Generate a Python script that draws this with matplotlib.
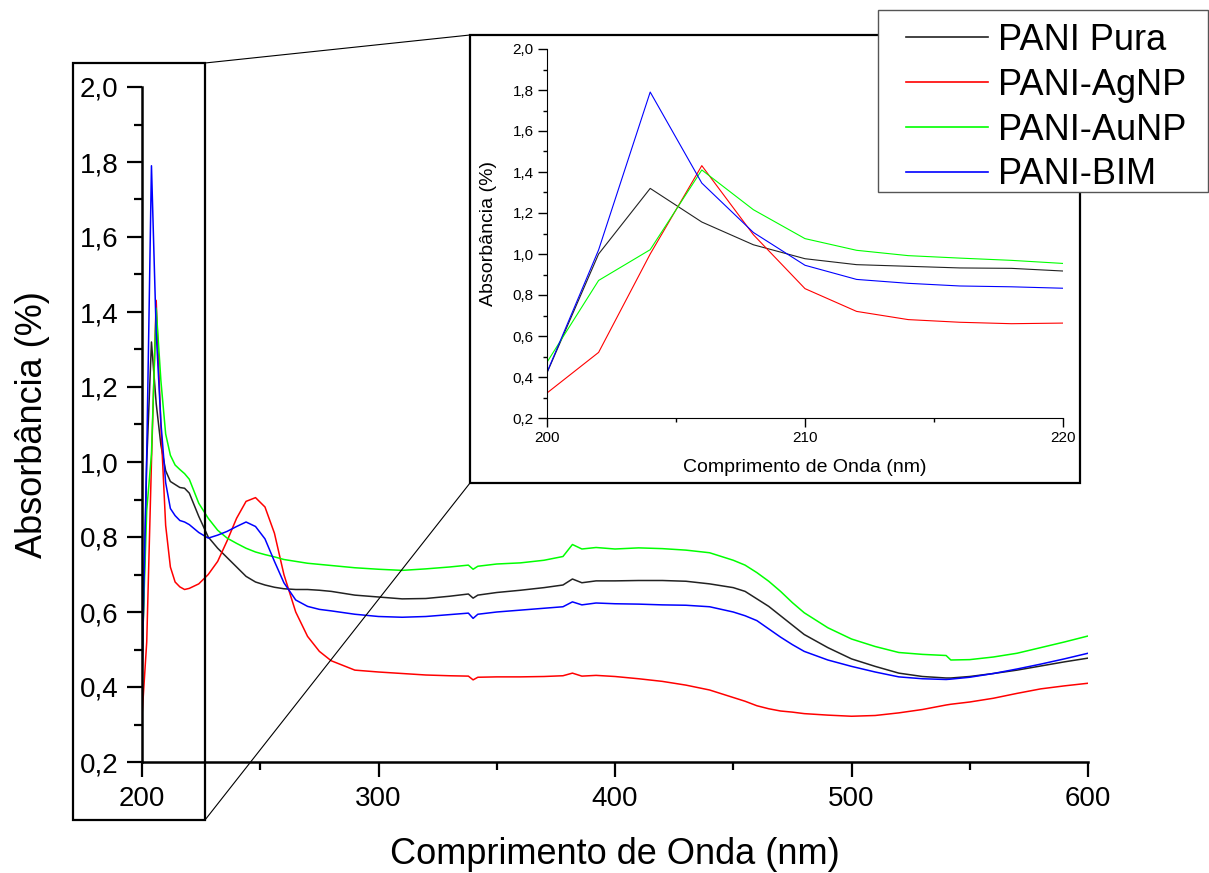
import matplotlib
matplotlib.use("Agg")
import matplotlib.pyplot as plt
from matplotlib.patches import Rectangle
from matplotlib.lines import Line2D
from matplotlib.ticker import MultipleLocator, FuncFormatter

plt.rcParams['font.family'] = ['Liberation Sans', 'DejaVu Sans']

# espectros UV-Vis (nm, absorbancia)
wl = [200, 202, 204, 206, 208, 210, 212, 214, 216, 218, 220,
      224, 228, 232, 236, 240, 244, 248, 252, 256, 260, 265, 270, 275, 280,
      290, 300, 310, 320, 330, 338, 340, 342, 350, 360, 370, 378, 382, 386,
      392, 400, 410, 420, 430, 440, 450, 455, 460, 465, 470, 475, 480, 490,
      500, 510, 520, 530, 540, 542, 550, 560, 570, 580, 590, 600]

pura = [0.42, 1.00, 1.32, 1.156, 1.045, 0.977, 0.948, 0.94, 0.932, 0.93, 0.917,
        0.855, 0.80, 0.77, 0.745, 0.72, 0.695, 0.68, 0.672, 0.666, 0.662, 0.660, 0.660, 0.658, 0.655,
        0.645, 0.640, 0.635, 0.636, 0.642, 0.648, 0.637, 0.645, 0.652, 0.658, 0.665, 0.672, 0.688, 0.678,
        0.683, 0.683, 0.684, 0.684, 0.682, 0.675, 0.665, 0.655, 0.635, 0.615, 0.59, 0.565, 0.54, 0.505,
        0.475, 0.455, 0.437, 0.428, 0.424, 0.424, 0.428, 0.436, 0.445, 0.456, 0.467, 0.477]

agnp = [0.322, 0.52, 1.00, 1.431, 1.094, 0.831, 0.72, 0.68, 0.667, 0.66, 0.663,
        0.675, 0.70, 0.735, 0.79, 0.85, 0.895, 0.905, 0.88, 0.81, 0.70, 0.60, 0.535, 0.495, 0.47,
        0.445, 0.44, 0.436, 0.432, 0.43, 0.429, 0.419, 0.426, 0.427, 0.427, 0.428, 0.43, 0.437, 0.429,
        0.431, 0.428, 0.422, 0.415, 0.405, 0.392, 0.372, 0.362, 0.35, 0.342, 0.336, 0.333, 0.329, 0.325,
        0.322, 0.324, 0.331, 0.34, 0.352, 0.354, 0.36, 0.37, 0.383, 0.395, 0.403, 0.41]

aunp = [0.472, 0.871, 1.021, 1.41, 1.216, 1.075, 1.018, 0.992, 0.98, 0.969, 0.954,
        0.89, 0.85, 0.818, 0.797, 0.783, 0.77, 0.76, 0.753, 0.747, 0.74, 0.735, 0.73, 0.727, 0.724,
        0.718, 0.714, 0.711, 0.715, 0.72, 0.725, 0.714, 0.722, 0.728, 0.731, 0.738, 0.748, 0.78, 0.768,
        0.772, 0.768, 0.771, 0.769, 0.765, 0.758, 0.738, 0.725, 0.705, 0.682, 0.655, 0.625, 0.598, 0.558,
        0.528, 0.508, 0.492, 0.487, 0.484, 0.472, 0.473, 0.48, 0.49, 0.505, 0.52, 0.536]

bim = [0.423, 1.02, 1.79, 1.346, 1.105, 0.945, 0.876, 0.857, 0.844, 0.84, 0.833,
       0.812, 0.797, 0.805, 0.815, 0.828, 0.84, 0.828, 0.795, 0.735, 0.678, 0.632, 0.615, 0.607, 0.603,
       0.594, 0.588, 0.586, 0.588, 0.593, 0.597, 0.583, 0.594, 0.60, 0.605, 0.61, 0.614, 0.627, 0.619,
       0.624, 0.622, 0.621, 0.619, 0.618, 0.614, 0.60, 0.59, 0.577, 0.555, 0.533, 0.513, 0.495, 0.472,
       0.455, 0.44, 0.427, 0.422, 0.42, 0.421, 0.426, 0.436, 0.448, 0.461, 0.475, 0.49]

series = [("PANI Pura", pura, '#222222'),
          ("PANI-AgNP", agnp, '#ff0000'),
          ("PANI-AuNP", aunp, '#00ff00'),
          ("PANI-BIM", bim, '#0000ff')]

W, H = 1209, 873


def fx(x):
    return x / W


def fy(y):
    return 1 - y / H


virg = FuncFormatter(lambda v, p: f"{v:.1f}".replace('.', ','))

fig = plt.figure(figsize=(W / 100, H / 100), dpi=100)

# grafico principal
ax = fig.add_axes([fx(142), fy(762), fx(1088) - fx(142), fy(87) - fy(762)])
for name, y, c in series:
    ax.plot(wl, y, color=c, lw=1.1, label=name)
ax.set_xlim(200, 600)
ax.set_ylim(0.2, 2.0)
ax.spines['top'].set_visible(False)
ax.spines['right'].set_visible(False)
for s in ('left', 'bottom'):
    ax.spines[s].set_linewidth(1.8)
ax.xaxis.set_major_locator(MultipleLocator(100))
ax.xaxis.set_minor_locator(MultipleLocator(50))
ax.yaxis.set_major_locator(MultipleLocator(0.2))
ax.yaxis.set_minor_locator(MultipleLocator(0.1))
ax.yaxis.set_major_formatter(virg)
ax.tick_params(which='major', direction='out', length=11, width=1.6, labelsize=20, pad=6)
ax.tick_params(which='minor', direction='out', length=5.5, width=1.6)
ax.set_xlabel("Comprimento de Onda (nm)", fontsize=26)
ax.set_ylabel("Absorbância (%)", fontsize=26)
ax.xaxis.set_label_coords(0.5, -0.111)
ax.yaxis.set_label_coords(-0.097, 0.5)

# caixa de zoom e linhas ligando ao detalhe
fig.add_artist(Rectangle((fx(73), fy(820)), fx(205) - fx(73), fy(63) - fy(820),
                         transform=fig.transFigure, fill=False, ec='black', lw=1.6, zorder=1))
fig.add_artist(Line2D([fx(205), fx(470)], [fy(63), fy(35)], transform=fig.transFigure,
                      color='black', lw=0.8, zorder=1))
fig.add_artist(Line2D([fx(205), fx(470)], [fy(820), fy(483)], transform=fig.transFigure,
                      color='black', lw=0.8, zorder=1))
fig.add_artist(Rectangle((fx(470), fy(483)), fx(1080) - fx(470), fy(35) - fy(483),
                         transform=fig.transFigure, fc='white', ec='black', lw=1.6, zorder=2))

# detalhe 200-220 nm
axi = fig.add_axes([fx(547), fy(418), fx(1063) - fx(547), fy(49) - fy(418)], zorder=3)
for name, y, c in series:
    axi.plot(wl, y, color=c, lw=0.8)
axi.set_xlim(200, 220)
axi.set_ylim(0.2, 2.0)
axi.spines['top'].set_visible(False)
axi.spines['right'].set_visible(False)
axi.xaxis.set_major_locator(MultipleLocator(10))
axi.xaxis.set_minor_locator(MultipleLocator(5))
axi.yaxis.set_major_locator(MultipleLocator(0.2))
axi.yaxis.set_minor_locator(MultipleLocator(0.1))
axi.yaxis.set_major_formatter(virg)
axi.tick_params(which='major', direction='out', length=6.5, width=1.0, labelsize=11, pad=3)
axi.tick_params(which='minor', direction='out', length=3, width=1.0)
axi.set_xlabel("Comprimento de Onda (nm)", fontsize=14)
axi.set_ylabel("Absorbância (%)", fontsize=14)
axi.xaxis.set_label_coords(0.5, -0.112)
axi.yaxis.set_label_coords(-0.097, 0.5)

# legenda: moldura propria + entradas sem moldura
fig.add_artist(Rectangle((fx(878), fy(192)), fx(1208) - fx(878), fy(10) - fy(192),
                         transform=fig.transFigure, fc='white', ec='#555555', lw=1.0, zorder=5))
leg = fig.legend(loc='upper left', bbox_to_anchor=(fx(906), fy(23)), fontsize=26,
                 frameon=False, borderpad=0, handlelength=2.28, handletextpad=0.28,
                 labelspacing=0.27, borderaxespad=0)
leg.set_zorder(6)
for line in leg.get_lines():
    line.set_linewidth(1.2)

fig.savefig("out.png", dpi=100)
